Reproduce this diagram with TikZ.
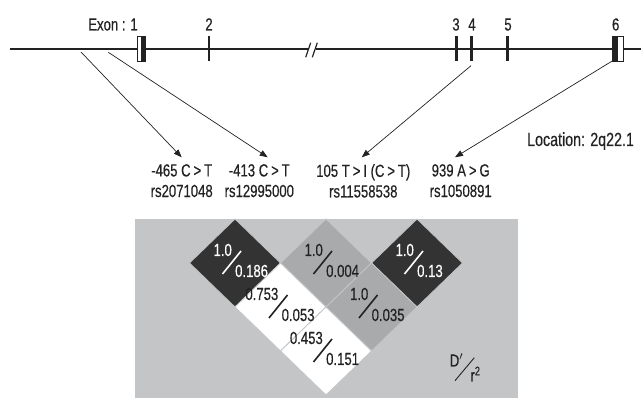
\documentclass[tikz,border=0pt]{standalone}
\usepackage{fontspec}
\setmainfont{Liberation Sans}[FakeStretch=0.75, FakeBold=0.4]
\usetikzlibrary{arrows.meta}
\definecolor{panel}{HTML}{C4C5C7}
\definecolor{dark}{HTML}{333333}
\definecolor{mid}{HTML}{A9AAAC}
\definecolor{txt}{HTML}{222222}
\tikzset{
  gene/.style={line width=2.2pt, txt},
  exontick/.style={line width=1.8pt, txt},
  exonthick/.style={line width=3.2pt, txt},
  lbl/.style={font=\fontsize{17.5}{20.6}\selectfont, text=txt, inner sep=0pt},
  snp/.style={lbl, align=center, anchor=north},
  snparrow/.style={line width=0.7pt, txt, -{Triangle[length=8pt,width=6pt]}},
  ld/.style={font=\fontsize{17.5}{19}\selectfont, inner sep=0pt},
  slash/.style={line width=1.6pt, line cap=butt},
}
% diamond: #1 center x, #2 center y, #3 fill
\newcommand{\ldcell}[3]{%
  \fill[#3, draw=panel, line width=0.8pt] (#1-45.5,#2) -- (#1,#2-44) -- (#1+45.5,#2) -- (#1,#2+44) -- cycle;}
% values: #1 name, #2 cx, #3 cy, #4 top, #5 bottom, #6 colour
\newcommand{\ldvals}[6]{%
  \node[ld, text=#6, anchor=base east] (#1t) at (#2-3,#3-7) {#4};
  \node[ld, text=#6, anchor=base west] (#1b) at (#2,#3+14) {#5};
  \draw[slash, #6] (#2-12.5,#3+11) -- (#2+6,#3-12);}
\begin{document}
\begin{tikzpicture}[x=1pt,y=-1pt]
\useasboundingbox (0,0) rectangle (641,398);
% gene line
\coordinate (g0) at (10,49);
\coordinate (g1) at (307.5,49);
\coordinate (g2) at (316,49);
\coordinate (g3) at (641,49);
\draw[gene] (g0) -- (g1);
\draw[gene] (g2) -- (g3);
\draw[line width=1.2pt, txt] (305.7,57.3) -- (310.7,42.7);
\draw[line width=1.2pt, txt] (312.3,57.3) -- (317.3,42.7);
% exons
\fill[white, draw=txt, line width=0.6pt] (137.5,36.5) rectangle (145,61);
\fill[txt] (141.2,36.5) rectangle (145,61);
\draw[exontick] (209,36) -- (209,61);
\draw[exonthick] (456.7,36) -- (456.7,61);
\draw[exonthick] (471.5,36) -- (471.5,61);
\draw[exonthick] (507.7,36) -- (507.7,61);
\fill[white, draw=txt, line width=0.6pt] (612.5,36.5) rectangle (623,61);
\fill[txt] (612.5,36.5) rectangle (617.5,61);
% exon labels
\node[lbl, anchor=base] (e1) at (113,30.5) {Exon : 1};
\node[lbl, anchor=base] (e2) at (209,30.5) {2};
\node[lbl, anchor=base] (e3) at (456,30.5) {3};
\node[lbl, anchor=base] (e4) at (472,30.5) {4};
\node[lbl, anchor=base] (e5) at (508,30.5) {5};
\node[lbl, anchor=base] (e6) at (615.7,30.5) {6};
\node[lbl, anchor=base west, font=\fontsize{19}{22}\selectfont] (loc) at (527,146) {Location: 2q22.1};
% SNP labels
\node[snp] (s1) at (181.7,164) {-465 C\,>\,T\\rs2071048};
\node[snp] (s2) at (259.3,164) {-413 C\,>\,T\\rs12995000};
\node[snp] (s3) at (363.3,164) {105 T\,>\,I (C\,>\,T)\\rs11558538};
\node[snp] (s4) at (460.7,164) {939 A\,>\,G\\rs1050891};
% arrow origins
\coordinate (p1) at (81,52);
\coordinate (p2) at (108.3,52.3);
\coordinate (p3) at (471,65.7);
\coordinate (p4) at (615,59.3);
\draw[snparrow] (p1) -- ([yshift=6.7pt]s1.north);
\draw[snparrow] (p2) -- ([xshift=8.4pt,yshift=6.7pt]s2.north);
\draw[snparrow] (p3) -- ([xshift=-1.6pt,yshift=6.7pt]s3.north);
\draw[snparrow] (p4) -- ([xshift=-5.7pt,yshift=6.7pt]s4.north);
% LD panel
\fill[panel] (135,219) rectangle (518,398);
\ldcell{235}{263}{dark}
\ldcell{326}{263}{mid}
\ldcell{417}{263}{dark}
\ldcell{280.5}{307}{white}
\ldcell{371.5}{307}{mid}
\ldcell{326}{351}{white}
\ldvals{a}{235}{263}{1.0}{0.186}{white}
\ldvals{b}{326}{263}{1.0}{0.004}{txt}
\ldvals{c}{417}{263}{1.0}{0.13}{white}
\ldvals{d}{281.5}{307}{0.753}{0.053}{txt}
\ldvals{e}{371.5}{307}{1.0}{0.035}{txt}
\ldvals{f}{326}{351}{0.453}{0.151}{txt}
% legend
\node[ld, text=txt, anchor=base] (legD) at (456.5,366.5) {D$'$};
\node[ld, text=txt, anchor=base] (legr) at (475.5,381.5) {r\textsuperscript{2}};
\draw[line width=0.9pt, txt] (455,380.7) -- (474.3,357.7);
\end{tikzpicture}
\end{document}
